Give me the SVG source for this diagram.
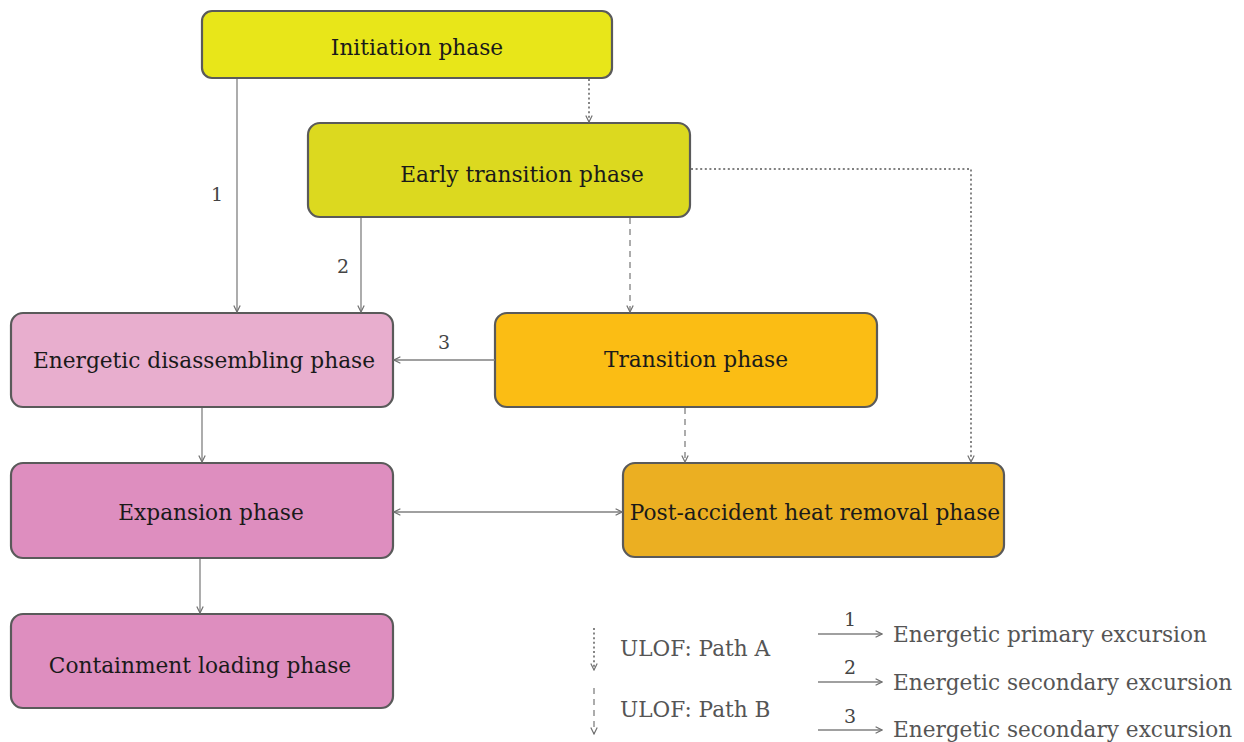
<svg xmlns="http://www.w3.org/2000/svg" width="1244" height="742" viewBox="0 0 1244 742">
<style>
.box{stroke:#5a5a5a;stroke-width:2.2}
.lbl{font-family:"DejaVu Serif","Liberation Serif",serif;font-size:21.7px;fill:#1a1a1a;text-anchor:middle}
.c{fill:none;stroke:#808080;stroke-width:1.3}
.dot{stroke-dasharray:2 2.6;stroke-width:1.9}
.dash{stroke-dasharray:6 5}
.num{font-family:"DejaVu Serif","Liberation Serif",serif;font-size:19px;fill:#444;text-anchor:middle}
.leg{font-family:"DejaVu Serif","Liberation Serif",serif;font-size:21.6px;fill:#555}
</style>
<defs>
<marker id="ah" viewBox="0 0 10 10" refX="9" refY="5" markerWidth="8" markerHeight="8" markerUnits="userSpaceOnUse" orient="auto-start-reverse">
<path d="M1,1 L9,5 L1,9" fill="none" stroke="#707070" stroke-width="1.5"/>
</marker>
</defs>
<rect width="1244" height="742" fill="#fff"/>
<g id="initiation"><rect class="box" x="202" y="11" width="410" height="67" rx="10" fill="#e8e619"/><text class="lbl" x="417" y="55">Initiation phase</text></g>
<g id="early"><rect class="box" x="308" y="123" width="382" height="94" rx="12" fill="#dcd91f"/><text class="lbl" x="522" y="182">Early transition phase</text></g>
<g id="disassembling"><rect class="box" x="11" y="313" width="382" height="94" rx="12" fill="#e8aece"/><text class="lbl" x="204" y="368">Energetic disassembling phase</text></g>
<g id="transition"><rect class="box" x="495" y="313" width="382" height="94" rx="12" fill="#fbbd14"/><text class="lbl" x="696" y="367">Transition phase</text></g>
<g id="expansion"><rect class="box" x="11" y="463" width="382" height="95" rx="12" fill="#de8ebf"/><text class="lbl" x="211" y="520">Expansion phase</text></g>
<g id="postaccident"><rect class="box" x="623" y="463" width="381" height="94" rx="12" fill="#ebaf22"/><text class="lbl" x="815" y="520">Post-accident heat removal phase</text></g>
<g id="containment"><rect class="box" x="11" y="614" width="382" height="94" rx="12" fill="#de8ebf"/><text class="lbl" x="200" y="673">Containment loading phase</text></g>
<g id="connectors">
<path class="c" d="M237,79 V312" marker-end="url(#ah)"/>
<text class="num" x="217" y="201">1</text>
<path class="c" d="M361,218 V312" marker-end="url(#ah)"/>
<text class="num" x="343" y="273">2</text>
<path class="c dot" d="M589,79 V122" marker-end="url(#ah)"/>
<path class="c dash" d="M630,218 V312" marker-end="url(#ah)"/>
<path class="c dot" d="M691,169 H971 V462" marker-end="url(#ah)"/>
<path class="c" d="M495,360 H394" marker-end="url(#ah)"/>
<text class="num" x="444" y="349">3</text>
<path class="c" d="M202,408 V462" marker-end="url(#ah)"/>
<path class="c dash" d="M685,408 V462" marker-end="url(#ah)"/>
<path class="c" d="M394,512 H622" marker-start="url(#ah)" marker-end="url(#ah)"/>
<path class="c" d="M200,559 V613" marker-end="url(#ah)"/>
</g>
<g id="legend">
<path class="c dot" d="M594,628 V670" marker-end="url(#ah)"/>
<text class="leg" x="620" y="656">ULOF: Path A</text>
<path class="c dash" d="M594,688 V734" marker-end="url(#ah)"/>
<text class="leg" x="620" y="717">ULOF: Path B</text>
<path class="c" d="M818,634 H882" marker-end="url(#ah)"/>
<text class="num" x="850" y="626">1</text>
<text class="leg" x="893" y="642">Energetic primary excursion</text>
<path class="c" d="M818,682 H882" marker-end="url(#ah)"/>
<text class="num" x="850" y="674">2</text>
<text class="leg" x="893" y="690">Energetic secondary excursion</text>
<path class="c" d="M818,730 H882" marker-end="url(#ah)"/>
<text class="num" x="850" y="723">3</text>
<text class="leg" x="893" y="737">Energetic secondary excursion</text>
</g>
</svg>
